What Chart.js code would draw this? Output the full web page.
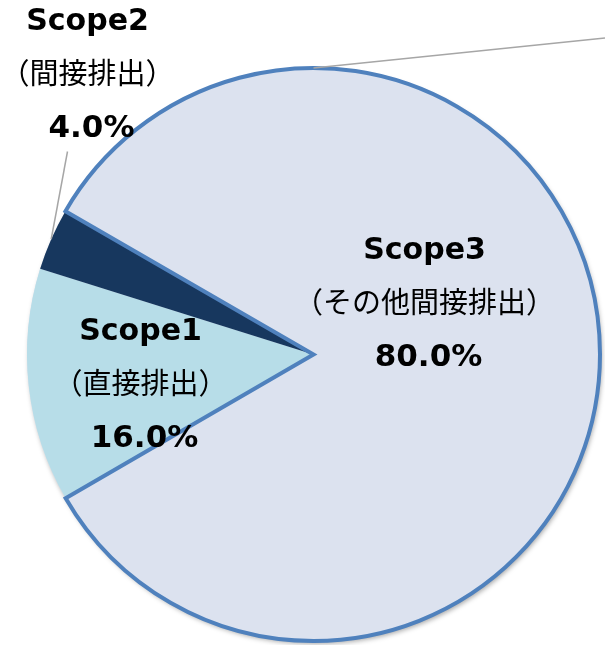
<!DOCTYPE html>
<html>
<head>
<meta charset="utf-8">
<script src="https://cdn.jsdelivr.net/npm/chart.js@4.4.1/dist/chart.umd.min.js"></script>
<style>
  html, body { margin: 0; padding: 0; background: #fff; }
  canvas { display: block; }
</style>
</head>
<body>
<canvas id="scope-pie" width="605" height="645"></canvas>
<script>
// Scope emissions breakdown
const categories = ['Scope1', 'Scope2', 'Scope3'];
const subLabels = ['（直接排出）', '（間接排出）', '（その他間接排出）'];
const shareLabels = ['16.0%', '4.0%', '80.0%'];
// slice sizes as drawn in the picture
const shareValues = [13.2, 3.5, 83.3];
const sliceColors = ['#B7DDE8', '#17375E', '#DCE2EF'];

// label anchors, offset from pie centre (middle line of each label)
const labelOffsets = [[-173, 28], [-226, -282], [111, -53]];

const labelPlugin = {
    id: 'sliceLabels',
    beforeDatasetsDraw(chart) {
        // soft drop shadow under the whole pie
        const arc = chart.getDatasetMeta(0).data[0];
        const ctx = chart.ctx;
        ctx.save();
        ctx.shadowColor = 'rgba(0,0,0,0.35)';
        ctx.shadowBlur = 5;
        ctx.shadowOffsetX = 2;
        ctx.shadowOffsetY = 3;
        ctx.fillStyle = sliceColors[2];
        ctx.beginPath();
        ctx.arc(arc.x, arc.y, arc.outerRadius, 0, Math.PI * 2);
        ctx.fill();
        ctx.restore();
    },
    afterDatasetsDraw(chart) {
        const meta = chart.getDatasetMeta(0);
        const ctx = chart.ctx;
        const cx = meta.data[0].x, cy = meta.data[0].y, R = meta.data[0].outerRadius;

        // leader lines
        ctx.save();
        ctx.strokeStyle = '#A6A6A6';
        ctx.lineWidth = 1.5;
        const s2 = meta.data[1];
        const mid = (s2.startAngle + s2.endAngle) / 2;
        ctx.beginPath();
        ctx.moveTo(cx + Math.cos(mid) * R, cy + Math.sin(mid) * R);
        ctx.lineTo(cx + labelOffsets[1][0] - 20, cy + labelOffsets[1][1] + 79);
        ctx.stroke();
        ctx.beginPath();
        ctx.moveTo(cx, cy - R);
        ctx.lineTo(chart.width, cy - R - 30);
        ctx.stroke();
        ctx.restore();

        // text
        ctx.save();
        ctx.fillStyle = '#000';
        ctx.textAlign = 'center';
        ctx.textBaseline = 'middle';
        categories.forEach((name, i) => {
            const x = cx + labelOffsets[i][0];
            const y = cy + labelOffsets[i][1];
            ctx.font = 'bold 30px "DejaVu Sans", Verdana, sans-serif';
            ctx.fillText(name, x, y - 50);
            ctx.font = '29px "Noto Sans CJK JP", sans-serif';
            ctx.fillText(subLabels[i], x, y);
            ctx.font = 'bold 31px "DejaVu Sans", Verdana, sans-serif';
            ctx.fillText(shareLabels[i], x + 4, y + 56);
        });
        ctx.restore();
    }
};

new Chart(document.getElementById('scope-pie'), {
    type: 'pie',
    data: {
        labels: categories,
        datasets: [{
            data: shareValues,
            backgroundColor: sliceColors,
            borderColor: '#4F81BD',
            borderWidth: [0, 0, 4],
            borderJoinStyle: 'miter'
        }]
    },
    options: {
        responsive: false,
        animation: false,
        devicePixelRatio: 1,
        rotation: 239.9,
        layout: { padding: { left: 25, right: 3, top: 66, bottom: 2 } },
        plugins: { legend: { display: false }, tooltip: { enabled: false } }
    },
    plugins: [labelPlugin]
});
</script>
</body>
</html>
